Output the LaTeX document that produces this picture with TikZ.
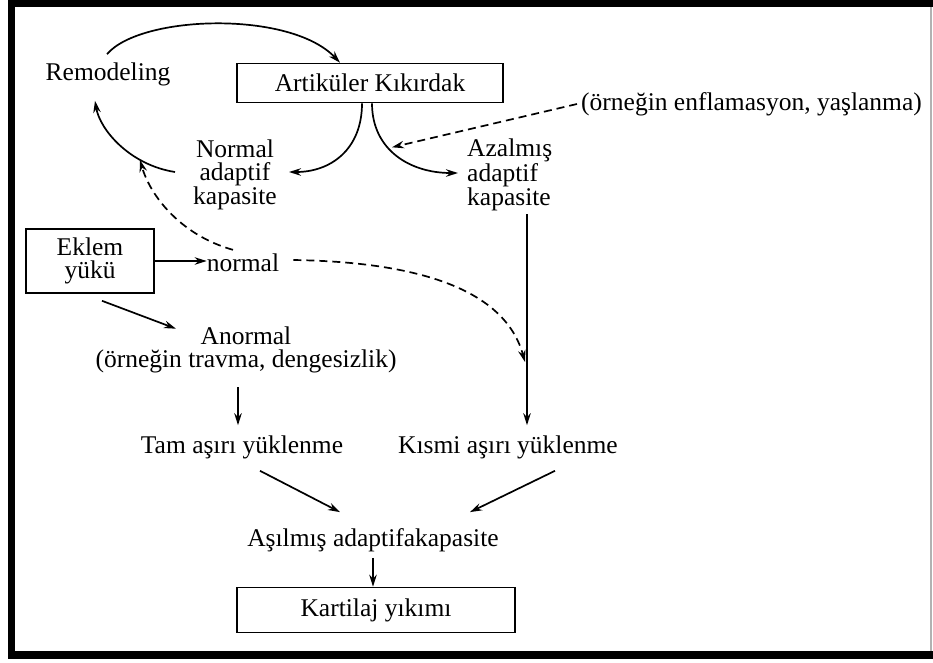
\documentclass[tikz,border=0pt]{standalone}
\usepackage{fontspec}
\setmainfont{Liberation Serif}
\usetikzlibrary{arrows.meta,calc}
\begin{document}
\begin{tikzpicture}[x=1pt,y=-1pt,
  txt/.style={font=\fontsize{25.5}{23}\selectfont, inner sep=0pt, align=center},
  boxnode/.style={txt, draw, line width=1.6pt},
  arr/.style={line width=1.7pt, -{Stealth[length=12pt,width=7.5pt]}},
  dsh/.style={arr, dash pattern=on 8pt off 5pt}]
\useasboundingbox (0,0) rectangle (933,662);
% frame
\fill[black] (8,0) rectangle (933,7);
\fill[black] (8,0) rectangle (15,659);
\fill[black] (8,651) rectangle (933,659);
\fill[gray!60] (930,7) rectangle (931.5,651);
% nodes
\node[txt] (rem) at (108,74) {Remodeling};
\node[boxnode, minimum width=266pt, minimum height=39pt] (art) at (370,83) {Artiküler Kıkırdak};
\node[txt] (nak) at (235,175) {Normal\\adaptif\\kapasite};
\node[txt, align=left, anchor=west] (aak) at (467,175) {Azalmış\\adaptif\\kapasite};
\node[txt, anchor=west] (ornek) at (581,104) {(örneğin enflamasyon, yaşlanma)};
\node[boxnode, minimum width=128pt, minimum height=64pt] (ekl) at (90,261) {Eklem\\yükü};
\node[txt] (nor) at (243,263) {normal};
\node[txt] (anor) at (246,350) {Anormal\\(örneğin travma, dengesizlik)};
\node[txt] (tam) at (242,447) {Tam aşırı yüklenme};
\node[txt] (kis) at (508,447) {Kısmi aşırı yüklenme};
\node[txt] (asil) at (373,540) {Aşılmış adaptifakapasite};
\node[boxnode, minimum width=278pt, minimum height=45pt] (kart) at (376,610) {Kartilaj yıkımı};
% connectors
\draw[arr] ($(rem.north)+(-1,-8)$) .. controls (140,15) and (290,10) .. ($(art.north)+(-30,0)$);
\draw[arr] ($(art.south)+(-8,0)$) .. controls (362,150) and (330,172) .. ($(nak.east)+(12,-3)$);
\draw[arr] ($(art.south)+(2,0)$) .. controls (372,150) and (410,173) .. ($(aak.west)+(-9,-2)$);
\draw[dsh] ($(ornek.west)+(-4,0)$) -- ($(art.south)+(22,44)$);
\draw[arr] ($(nak.west)+(-18,-3)$) .. controls (130,165) and (100,130) .. ($(rem.south)+(-13,15)$);
\draw[dsh] ($(nor.north)+(-10,-4)$) .. controls (180,235) and (150,195) .. (140,160);
\draw[dsh] ($(nor.east)+(14,-3)$) .. controls (420,262) and (505,290) .. (525,362);
\draw[arr] ($(aak.south west)+(60,3)$) -- ($(kis.north)+(19,-10)$);
\draw[arr] (ekl.east) -- (ekl.east -| nor.west);
\draw[arr] ($(ekl.south)+(12,7)$) -- ($(anor.north)+(-70,2)$);
\draw[arr] ($(anor.south)+(-8,14)$) -- ($(tam.north)+(-4,-10)$);
\draw[arr] ($(tam.south)+(18,12)$) -- ($(asil.north)+(-33,-16)$);
\draw[arr] ($(kis.south)+(47,12)$) -- ($(asil.north)+(97,-16)$);
\draw[arr] ($(asil.south)+(0,6)$) -- (kart.north -| asil.south);
\end{tikzpicture}
\end{document}
